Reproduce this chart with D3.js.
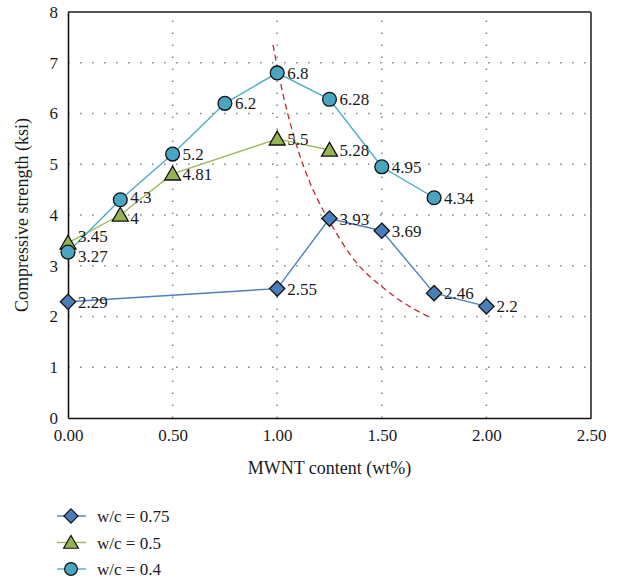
<!DOCTYPE html>
<html>
<head>
<meta charset="utf-8">
<script src="https://cdn.jsdelivr.net/npm/d3@7"></script>
<style>
  html, body { margin: 0; padding: 0; background: #fff; }
</style>
</head>
<body>
<svg id="chart" width="619" height="581"></svg>
<script>
// ---- data ----
const xTicks = [0, 0.5, 1.0, 1.5, 2.0, 2.5];
const yTicks = [0, 1, 2, 3, 4, 5, 6, 7, 8];

const x075 = [0, 1.0, 1.25, 1.5, 1.75, 2.0];
const y075 = [2.29, 2.55, 3.93, 3.69, 2.46, 2.2];

const x05 = [0, 0.25, 0.5, 1.0, 1.25];
const y05 = [3.45, 4, 4.81, 5.5, 5.28];

const x04 = [0, 0.25, 0.5, 0.75, 1.0, 1.25, 1.5, 1.75];
const y04 = [3.27, 4.3, 5.2, 6.2, 6.8, 6.28, 4.95, 4.34];

const seriesNames = ["w/c = 0.75", "w/c = 0.5", "w/c = 0.4"];

// dashed trend curve
const trendX = [0.98, 1.03, 1.11, 1.19, 1.26, 1.35, 1.43, 1.51, 1.60, 1.73];
const trendY = [7.35, 6.27, 5.08, 4.30, 3.80, 3.18, 2.82, 2.56, 2.26, 1.98];

// ---- layout ----
const FONT = '"Liberation Serif", "Times New Roman", Times, "DejaVu Serif", serif';
const svg = d3.select("#chart");
const L = 68, R = 591, T = 12, B = 418;
const x = d3.scaleLinear().domain([0, 2.5]).range([L, R]);
const y = d3.scaleLinear().domain([0, 8]).range([B, T]);

// grid
const grid = svg.append("g");
grid.selectAll("line.gx").data(xTicks.filter(d => d > 0 && d < 2.5)).enter().append("line")
  .attr("x1", d => x(d)).attr("x2", d => x(d)).attr("y1", B).attr("y2", T)
  .attr("stroke", "#8a8a8a").attr("stroke-width", 1.6).attr("stroke-dasharray", "1.6,10.4");
grid.selectAll("line.gy").data(yTicks.filter(d => d > 0 && d < 8)).enter().append("line")
  .attr("x1", L).attr("x2", R).attr("y1", d => y(d)).attr("y2", d => y(d))
  .attr("stroke", "#8a8a8a").attr("stroke-width", 1.6).attr("stroke-dasharray", "1.6,10.4");

// frame: top and right gray, left and bottom black
svg.append("line").attr("x1", L).attr("x2", R).attr("y1", T).attr("y2", T).attr("stroke", "#555").attr("stroke-width", 2);
svg.append("line").attr("x1", R).attr("x2", R).attr("y1", T).attr("y2", B).attr("stroke", "#555").attr("stroke-width", 2);

// axes
const xAxis = svg.append("g").attr("transform", `translate(0,${B})`)
  .call(d3.axisBottom(x).tickValues(xTicks).tickFormat(d3.format(".2f")).tickSize(0).tickPadding(11));
const yAxis = svg.append("g").attr("transform", `translate(${L},0)`)
  .call(d3.axisLeft(y).tickValues(yTicks).tickFormat(d3.format("d")).tickSize(0).tickPadding(10));
[xAxis, yAxis].forEach(a => {
  a.attr("font-family", null);
  a.select(".domain").attr("stroke", "#111").attr("stroke-width", 1.6);
  a.selectAll("text").attr("font-size", 17).attr("fill", "#1a1a1a");
});

// axis titles
svg.append("text").attr("x", (L + R) / 2).attr("y", 474).attr("text-anchor", "middle")
  .attr("font-size", 18).text("MWNT content (wt%)");
svg.append("text").attr("transform", `translate(28,${(T + B) / 2}) rotate(-90)`)
  .attr("text-anchor", "middle").attr("font-size", 18).text("Compressive strength (ksi)");

// trend curve
svg.append("path")
  .datum(trendX.map((d, i) => [d, trendY[i]]))
  .attr("d", d3.line().x(d => x(d[0])).y(d => y(d[1])).curve(d3.curveBasis))
  .attr("fill", "none").attr("stroke", "#c0282e").attr("stroke-width", 1.3).attr("stroke-dasharray", "6,4");

// series
const series = [
  { xs: x075, ys: y075, line: "#4f81bd", fill: "#4a7ebb", sym: d3.symbolDiamond2, size: 150 },
  { xs: x05,  ys: y05,  line: "#9bbb59", fill: "#94b454", sym: d3.symbolTriangle, size: 110 },
  { xs: x04,  ys: y04,  line: "#4bacc6", fill: "#4aa6c0", sym: d3.symbolCircle, size: 150 }
];
const lineGen = d3.line().x(d => x(d[0])).y(d => y(d[1]));
// small vertical nudges for the crowded labels near x = 0
const labelDy = { "3.45": -7, "3.27": 4, "4": 3, "4.3": -3 };

series.forEach(s => {
  const pts = s.xs.map((d, i) => [d, s.ys[i]]);
  svg.append("path").datum(pts).attr("d", lineGen)
    .attr("fill", "none").attr("stroke", s.line).attr("stroke-width", 1.4);
});
series.forEach(s => {
  const pts = s.xs.map((d, i) => [d, s.ys[i]]);
  const g = svg.append("g");
  g.selectAll("path.m").data(pts).enter().append("path")
    .attr("transform", d => `translate(${x(d[0])},${y(d[1]) + (s.sym === d3.symbolTriangle ? 1.5 : 0)})`)
    .attr("d", d3.symbol().type(s.sym).size(s.size))
    .attr("fill", s.fill).attr("stroke", "#111").attr("stroke-width", 1.3);
  g.selectAll("text").data(pts).enter().append("text")
    .attr("x", d => x(d[0]) + 10).attr("y", d => y(d[1]) + 6 + (labelDy[String(d[1])] || 0))
    .attr("font-size", 17).text(d => d[1]);
});

// legend
const leg = svg.append("g");
series.forEach((s, i) => {
  const cy = 516 + i * 26.5;
  leg.append("line").attr("x1", 57).attr("x2", 86).attr("y1", cy).attr("y2", cy)
    .attr("stroke", s.line).attr("stroke-width", 1.4);
  leg.append("path").attr("transform", `translate(71,${cy + (s.sym === d3.symbolTriangle ? 1.5 : 0)})`)
    .attr("d", d3.symbol().type(s.sym).size(s.size * 0.85))
    .attr("fill", s.fill).attr("stroke", "#111").attr("stroke-width", 1.2);
  leg.append("text").attr("x", 97).attr("y", cy + 6).attr("font-size", 17).text(seriesNames[i]);
});

svg.selectAll("text").style("font-family", FONT).style("fill", "#1a1a1a");
</script>
</body>
</html>
